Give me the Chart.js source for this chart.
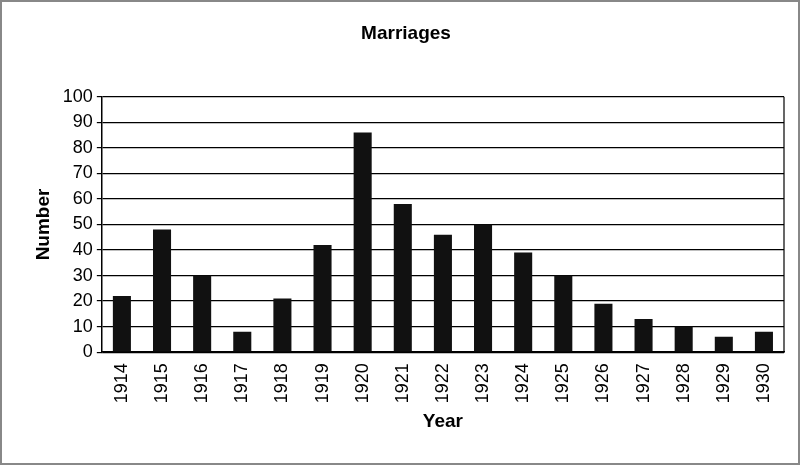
<!DOCTYPE html>
<html>
<head>
<meta charset="utf-8">
<script src="https://cdn.jsdelivr.net/npm/chart.js@4"></script>
<style>
  html, body { margin: 0; padding: 0; background: #fff; }
  #wrap { width: 796px; height: 461px; border: 2px solid #888; position: relative; }
</style>
</head>
<body>
<div id="wrap"><canvas id="marriageChart" width="796" height="461"></canvas></div>
<script>
// Dữ liệu
const years = ["1914", "1915", "1916", "1917", "1918", "1919", "1920", "1921", "1922",
	"1923", "1924", "1925", "1926", "1927", "1928", "1929", "1930"];
const marriages = [22, 48, 30, 8, 21, 42, 86, 58, 46, 50, 39, 30, 19, 13, 10, 6, 8];
const yTicks = [0, 10, 20, 30, 40, 50, 60, 70, 80, 90, 100];

const font = { family: "Liberation Sans, Arial, sans-serif", size: 18 };

// Khung bên phải của vùng vẽ
const plotBox = {
	id: "plotBox",
	afterDraw(chart) {
		const { ctx, chartArea: a } = chart;
		ctx.save();
		ctx.strokeStyle = "#000";
		ctx.lineWidth = 1.2;
		ctx.beginPath();
		ctx.moveTo(a.right, a.top);
		ctx.lineTo(a.right, a.bottom);
		ctx.stroke();
		ctx.restore();
	},
};

const ctx = document.getElementById("marriageChart").getContext("2d");
new Chart(ctx, {
	type: "bar",
	data: {
		labels: years,
		datasets: [{
			label: "Marriages",
			data: marriages,
			backgroundColor: "#111",
			barPercentage: 0.45,
			categoryPercentage: 1.0,
		}],
	},
	options: {
		responsive: false,
		animation: false,
		layout: { padding: { left: 26, right: 14, top: 6, bottom: 26 } },
		plugins: {
			legend: { display: false },
			title: {
				display: true,
				text: "Marriages",
				color: "#000",
				font: { family: font.family, size: 19, weight: "bold" },
				padding: { top: 14, bottom: 52 },
			},
		},
		scales: {
			x: {
				grid: { display: false },
				border: { color: "#000", width: 1.5 },
				ticks: {
					color: "#000", font: font, maxRotation: 90, minRotation: 90,
				},
				title: {
					display: true, text: "Year", color: "#000",
					font: { family: font.family, size: 19, weight: "bold" },
					padding: { top: 4 },
				},
			},
			y: {
				min: 0, max: 100,
				afterBuildTicks: (axis) => { axis.ticks = yTicks.map((v) => ({ value: v })); },
				grid: { color: "#000", lineWidth: 1.2, drawTicks: true, tickLength: 5 },
				border: { color: "#000", width: 1.5 },
				ticks: { color: "#000", font: font, padding: 4 },
				title: {
					display: true, text: "Number", color: "#000",
					font: { family: font.family, size: 19, weight: "bold" },
				},
			},
		},
	},
	plugins: [plotBox],
});
</script>
</body>
</html>
